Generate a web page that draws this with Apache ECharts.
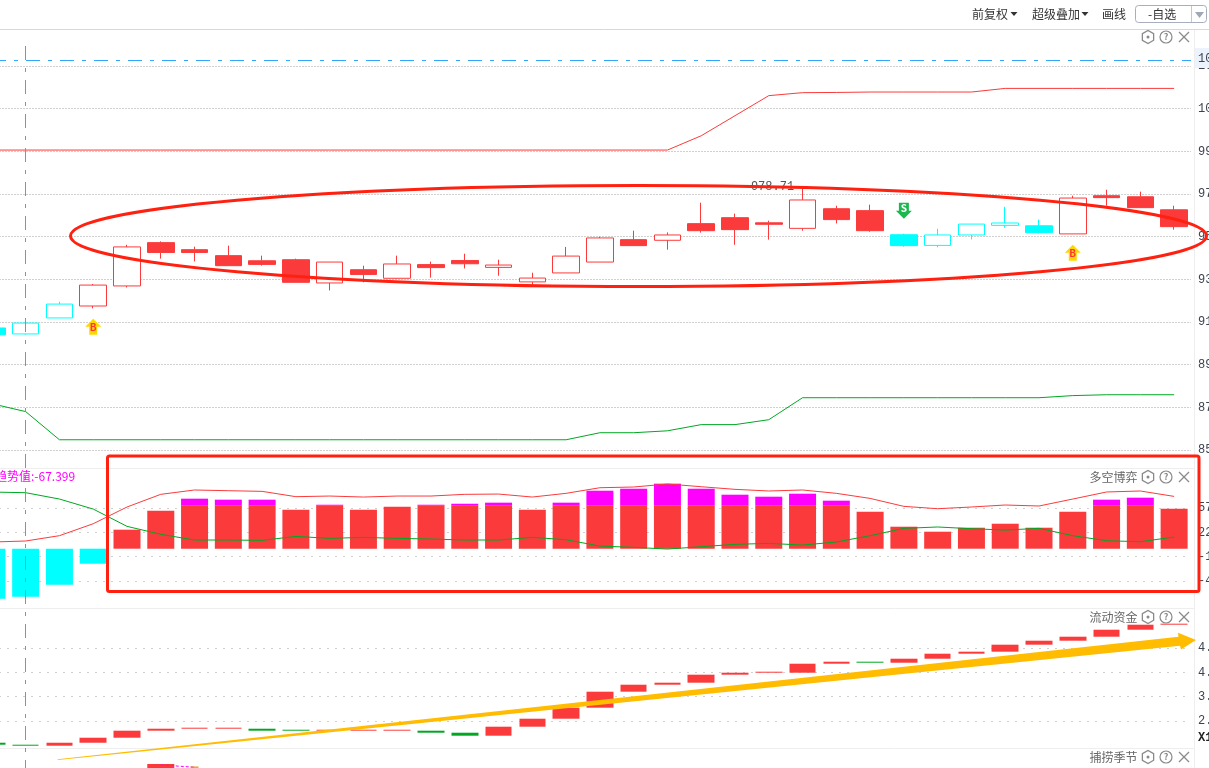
<!DOCTYPE html>
<html>
<head>
<meta charset="utf-8">
<style>html,body{margin:0;padding:0;background:#fff;overflow:hidden}#c{position:absolute;left:-25px;top:0;width:1234px;height:768px}</style>
<script src="https://cdn.jsdelivr.net/npm/echarts@6/dist/echarts.min.js"></script>
</head>
<body>
<div id="c"></div>
<script>
// [open, close, low, high]
const candles = [
[907.2,904.0,904.0,907.2],[904.4,909.5,904.0,910.1],[911.9,918.4,911.9,919.5],[917.5,927.3,916.4,927.8],
[926.9,945.2,926.2,946.2],[947.2,942.6,939.7,947.8],[943.9,942.6,938.4,945.3],[941.1,936.4,936.4,945.8],
[938.7,937.0,936.4,941.1],[939.2,928.6,928.6,939.7],[928.3,938.1,924.8,938.1],[934.5,932.3,928.6,936.4],
[930.5,937.2,930.3,941.1],[936.9,935.5,930.8,938.3],[938.8,937.3,935.1,942.0],[935.6,936.7,931.7,939.2],
[928.8,930.6,927.5,933.1],[933.0,940.9,933.0,945.2],[938.1,949.4,938.1,950.0],[948.6,945.8,945.8,952.8],
[948.3,950.8,943.9,952.0],[956.1,952.8,951.9,965.9],[958.9,953.3,946.2,960.8],[956.5,955.8,948.6,957.5],
[953.9,967.2,952.8,973.6],[963.1,958.0,956.2,964.5],[962.2,952.8,952.3,965.0],[950.9,945.8,945.3,951.4],
[945.9,950.8,945.0,953.7],[950.8,955.9,948.7,955.9],[955.3,956.4,954.2,964.0],[955.1,951.9,951.5,958.0],
[951.3,968.1,951.3,969.2],[969.2,968.3,964.5,972.0],[968.7,963.6,963.6,971.1],[962.6,954.7,953.3,964.5]];
// C solid cyan, c hollow cyan, R solid red, r hollow red
const candleKinds = 'CccrrRRRRRrRrRRrrrrRrRRRrRRCcccCrRRR'.split('');
const upperBand = [990.6,990.6,990.6,990.6,990.6,990.6,990.6,990.6,990.6,990.6,990.6,990.6,990.6,990.6,990.6,990.6,990.6,990.6,990.6,990.6,990.6,997.3,1006.7,1016.1,1017.5,1017.6,1017.8,1017.8,1017.8,1017.8,1019.5,1019.5,1019.5,1019.5,1019.5,1019.5];
const lowerBand = [871.7,868.0,854.8,854.8,854.8,854.8,854.8,854.8,854.8,854.8,854.8,854.8,854.8,854.8,854.8,854.8,854.8,854.8,858.1,858.1,859.0,861.9,861.9,864.2,874.5,874.5,874.5,874.5,874.5,874.5,874.5,874.5,875.5,875.9,875.9,875.9];
const signals = [{i:3,v:907.8,t:'B'},{i:27,v:962.2,t:'S'},{i:32,v:942.5,t:'B'}];

const cyanBars =   [-70.3,-67.4,-50.6,-21.1,null,null,null,null,null,null,null,null,null,null,null,null,null,null,null,null,null,null,null,null,null,null,null,null,null,null,null,null,null,null,null,null];
const redBars =    [null,null,null,null,26.7,53.4,60.9,60.9,60.9,54.8,60.9,54.8,59.0,60.9,60.9,60.9,54.8,60.9,60.9,60.9,60.9,60.9,60.9,60.9,60.9,60.9,52.0,30.9,23.9,29.5,35.1,29.5,52.0,60.9,60.9,56.2];
const magentaBars =[null,null,null,null,null,null,9.4,8.0,8.0,null,0.9,null,null,0.9,2.3,3.8,null,3.8,20.6,23.4,30.5,23.4,15.0,12.2,16.4,6.6,null,null,null,null,null,null,null,8.0,10.8,null];
const redLine = [9.4,10.8,18.3,35.1,58.6,76.4,82.5,81.5,80.6,73.1,74.0,72.6,74.0,74.0,76.4,76.8,72.6,77.8,85.7,86.7,90.9,87.1,83.4,81.1,82.5,77.8,70.7,59.5,56.2,58.6,61.4,60.0,69.8,79.7,81.1,73.5];
const greenLine = [79.6,78.7,69.8,55.7,31.4,20.2,12.2,12.2,11.7,17.3,14.5,15.9,14.5,13.6,12.2,12.2,15.9,12.6,3.7,1.9,-0.5,2.8,6.1,7.5,5.1,9.4,18.3,28.6,30.5,28.1,26.2,28.6,18.3,11.2,9.8,16.4];

const flowOpen =  [1.975,1.918,1.889,1.975,2.119,2.321,2.378,2.378,2.378,2.349,2.321,2.321,2.321,2.321,2.263,2.177,2.436,2.666,2.983,3.443,3.644,3.702,3.932,3.989,3.989,4.248,4.306,4.277,4.392,4.536,4.594,4.795,4.910,5.025,5.226,5.370];
const flowClose = [1.918,1.889,1.975,2.119,2.321,2.378,2.407,2.407,2.321,2.321,2.349,2.349,2.349,2.263,2.177,2.436,2.666,2.983,3.443,3.644,3.702,3.932,3.989,4.018,4.248,4.306,4.277,4.392,4.536,4.594,4.795,4.910,5.025,5.226,5.370,5.399];

const seasonBars = [null,null,null,null,null,4,null,null];
const seasonOrange = [null,null,null,null,null,null,0.8,null];
const seasonLine = [null,null,null,null,null,3,0.8,null];

const mainTicks = ['85','87','89','91','93','95','97','99','10','10'];
const gameTicks = ['-4','-1','22','57'];
const flowTicks = ['2.','3.','4.','4.'];
const categories = candles.map((_, i) => String(i));

const RED='#fb3b3b', CYAN='#00ffff', GREEN='#00a822', MAGENTA='#ff00ff', DRAW='#ff2010', GOLD='#ffbc00';
const CJK='"Noto Sans CJK SC","Noto Sans",sans-serif', MONO='"Liberation Mono",monospace';
const styles = {
  r:{color:'#fff',color0:'#fff',borderColor:RED,borderColor0:RED},
  R:{color:RED,color0:RED,borderColor:RED,borderColor0:RED},
  c:{color:'#fff',color0:'#fff',borderColor:CYAN,borderColor0:CYAN},
  C:{color:CYAN,color0:CYAN,borderColor:CYAN,borderColor0:CYAN}
};
const UP='path://M8 0L16 8L12 8L12 16L4 16L4 8L0 8Z', DOWN='path://M3 0L13 0L13 8L16 8L8 16L0 8L3 8Z';

function split(color,dash){return {show:true,lineStyle:{color:color,width:1,type:dash}};}
function yAxis(gridIndex,min,max,interval,ticks,dash){
  return {type:'value',gridIndex,min,max,interval,position:'right',
    axisLine:{show:false},axisTick:{show:false},splitLine:split('#d0d0d0',dash),
    axisLabel:{show:true,margin:7,color:'#3c4350',fontFamily:MONO,fontSize:12,
      showMinLabel:true,showMaxLabel:true,hideOverlap:false,
      formatter:(v,i)=>ticks[i]===undefined?'':ticks[i]}};
}
function xAxis(gridIndex){return {type:'category',gridIndex,data:categories,show:false,boundaryGap:true};}
function paneIcons(y){
  const c='#8a8a8a', g=[];
  const hex=[];for(let k=0;k<6;k++){const a=Math.PI/3*k+Math.PI/6;hex.push([1148+6.5*Math.cos(a),y+6.5*Math.sin(a)]);}
  g.push({type:'polygon',z:40,shape:{points:hex},style:{fill:'none',stroke:c,lineWidth:1.3}});
  g.push({type:'circle',z:40,shape:{cx:1148,cy:y,r:1.5},style:{fill:c}});
  g.push({type:'circle',z:40,shape:{cx:1166,cy:y,r:6},style:{fill:'none',stroke:c,lineWidth:1.2}});
  g.push({type:'text',z:40,style:{x:1166,y:y,text:'?',fill:c,font:'bold 9px '+CJK,textAlign:'center',textVerticalAlign:'middle'}});
  g.push({type:'line',z:40,shape:{x1:1179,y1:y-5,x2:1189,y2:y+5},style:{stroke:c,lineWidth:1.2}});
  g.push({type:'line',z:40,shape:{x1:1189,y1:y-5,x2:1179,y2:y+5},style:{stroke:c,lineWidth:1.2}});
  return g;
}
function paneTitle(t,y){return {type:'text',z:40,style:{x:1137.5,y:y,text:t,fill:'#666',font:'12px '+CJK,textAlign:'right',textVerticalAlign:'middle'}};}
function sep(x1,y1,x2,y2,color){return {type:'line',z:1,shape:{x1,y1,x2,y2},style:{stroke:color||'#eeeeee',lineWidth:1}};}
function toolbar(t,x,color){return {type:'text',z:40,style:{x,y:14,text:t,fill:color||'#333',font:'12px '+CJK,textVerticalAlign:'middle'}};}
function tri(x,y,w,h,c){return {type:'polygon',z:40,shape:{points:[[x,y],[x+w,y],[x+w/2,y+h]]},style:{fill:c}};}

const graphic = [
  sep(0,29.5,1209,29.5,'#d8d8d8'), sep(0,468.5,1194,468.5), sep(0,608.5,1194,608.5), sep(0,748.5,1194,748.5), sep(1194.5,30,1194.5,768),
  toolbar('前复权',972), tri(1010.5,12,7,4,'#333'),
  toolbar('超级叠加',1032), tri(1081.5,12,7,4,'#333'),
  toolbar('画线',1102),
  {type:'rect',z:39,shape:{x:1135.5,y:5.5,width:71,height:17,r:3},style:{fill:'#fff',stroke:'#a7aebd',lineWidth:1}},
  Object.assign(sep(1191.5,6,1191.5,22,'#c4c8d2'),{z:40}),
  tri(1195,12,9,6,'#a0a7b6'),
  {type:'text',z:40,style:{x:1148,y:14,text:'-自选',fill:'#333',font:'12px '+CJK,textVerticalAlign:'middle'}},
  // crosshair
  {type:'rect',z:30,shape:{x:1195,y:48,width:14,height:20},style:{fill:'#ecf3fc'}},
  {type:'text',z:31,style:{x:1198,y:59,text:'10',fill:'#3c4350',font:'12px '+MONO,textVerticalAlign:'middle'}},
  {type:'line',z:20,shape:{x1:0,y1:60.5,x2:1191,y2:60.5},style:{stroke:'#33a6fa',lineWidth:1,lineDash:[14,8,4,8],lineDashOffset:8}},
  {type:'line',z:20,shape:{x1:25.5,y1:46,x2:25.5,y2:768},style:{stroke:'#4aa3ee',lineWidth:1,lineDash:[14,8,4,8]}},
  // texts
  {type:'text',z:25,style:{x:772.5,y:186.5,text:'978.71',fill:'#555',font:'12px '+MONO,textAlign:'center',textVerticalAlign:'middle'}},
  {type:'text',z:25,style:{x:-5,y:476,text:'趋势值:-67.399',fill:MAGENTA,font:'12px '+CJK,textVerticalAlign:'middle'}},
  {type:'text',z:25,style:{x:1198,y:738,text:'X1',fill:'#222',font:'bold 12px '+MONO,textVerticalAlign:'middle'}},
  paneTitle('多空博弈',477), paneTitle('流动资金',617), paneTitle('捕捞季节',757),
  ...paneIcons(37), ...paneIcons(477), ...paneIcons(617), ...paneIcons(757),
  // hand-drawn annotations
  {type:'ellipse',z:26,shape:{cx:638.5,cy:236,rx:568,ry:50.5},style:{fill:'none',stroke:DRAW,lineWidth:3}},
  {type:'rect',z:26,shape:{x:107.5,y:456,width:1091.5,height:135.5,r:2},style:{fill:'none',stroke:DRAW,lineWidth:3}},
  {type:'polygon',z:26,shape:{points:[[57.5,759.3],[1178.5,636.8],[1178,632.8],[1196,640],[1181,649.5],[1180,645.8],[58,760]]},style:{fill:GOLD}}
];

const option = {
  animation:false,
  backgroundColor:'#fff',
  grid:[
    {left:0,right:18,top:66,height:384,outerBoundsMode:'none'},
    {left:0,right:18,top:508,height:73,outerBoundsMode:'none'},
    {left:0,right:18,top:648,height:73,outerBoundsMode:'none'},
    {left:0,right:18,top:748,height:20,outerBoundsMode:'none'}
  ],
  xAxis:[xAxis(0),xAxis(1),xAxis(2),xAxis(3)],
  yAxis:[
    yAxis(0,850,1030,20,mainTicks,[2,1]),
    yAxis(1,-45.4,57.2,34.2,gameTicks,[2,6]),
    yAxis(2,2.6,4.7,0.7,flowTicks,[2,6]),
    {type:'value',gridIndex:3,min:0,max:20,show:false,splitLine:{show:false}}
  ],
  graphic:{elements:[{type:'group',x:25,y:0,children:graphic}]},
  series:[
    {type:'candlestick',xAxisIndex:0,yAxisIndex:0,barWidth:27,clip:false,
     data:candles.map((d,i)=>({value:d,itemStyle:Object.assign({borderWidth:1},styles[candleKinds[i]])})),
     markPoint:{animation:false,silent:true,data:signals.map(s=>({
       coord:[s.i,s.v],symbol:s.t==='B'?UP:DOWN,symbolSize:16,
       itemStyle:{color:s.t==='B'?'#ffd800':'#1bb84f'},
       label:{show:true,position:'inside',formatter:s.t,fontSize:10,fontWeight:'bold',fontFamily:CJK,color:s.t==='B'?'#f33':'#fff',offset:[0,s.t==='B'?1:-2]}}))}},
    {type:'line',xAxisIndex:0,yAxisIndex:0,data:upperBand,symbol:'none',lineStyle:{color:RED,width:1},clip:false},
    {type:'line',xAxisIndex:0,yAxisIndex:0,data:lowerBand,symbol:'none',lineStyle:{color:GREEN,width:1},clip:false},

    {type:'bar',xAxisIndex:1,yAxisIndex:1,data:cyanBars,barWidth:27,barGap:'-100%',itemStyle:{color:CYAN},clip:false},
    {type:'bar',xAxisIndex:1,yAxisIndex:1,stack:'game',data:redBars,barWidth:27,itemStyle:{color:RED},clip:false},
    {type:'bar',xAxisIndex:1,yAxisIndex:1,stack:'game',data:magentaBars,barWidth:27,itemStyle:{color:MAGENTA},clip:false},
    {type:'line',xAxisIndex:1,yAxisIndex:1,data:redLine,symbol:'none',lineStyle:{color:RED,width:1},clip:false,z:5},
    {type:'line',xAxisIndex:1,yAxisIndex:1,data:greenLine,symbol:'none',lineStyle:{color:GREEN,width:1},clip:false,z:5},

    {type:'candlestick',xAxisIndex:2,yAxisIndex:2,barWidth:27,clip:false,
     itemStyle:{color:RED,color0:GREEN,borderColor:RED,borderColor0:GREEN,borderWidth:0},
     data:flowOpen.map((o,i)=>[o,flowClose[i],Math.min(o,flowClose[i]),Math.max(o,flowClose[i])])},

    {type:'bar',xAxisIndex:3,yAxisIndex:3,data:seasonBars,barWidth:27,itemStyle:{color:RED},clip:false},
    {type:'scatter',xAxisIndex:3,yAxisIndex:3,data:seasonOrange,symbol:'rect',symbolSize:[8,1.5],itemStyle:{color:'#e08a00'},clip:false,z:6},
    {type:'line',xAxisIndex:3,yAxisIndex:3,data:seasonLine,symbol:'none',connectNulls:false,lineStyle:{color:MAGENTA,width:1,type:[3,2]},clip:false,z:5}
  ]
};
const chart = echarts.init(document.getElementById('c'),null,{renderer:'canvas'});
chart.setOption(option);
</script>
</body>
</html>
